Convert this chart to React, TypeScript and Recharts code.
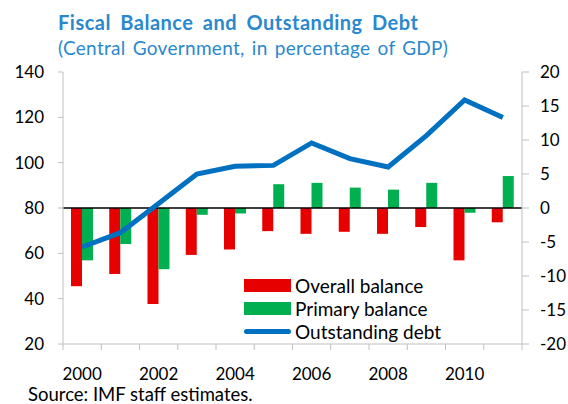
import { ComposedChart, Bar, Line, XAxis, YAxis, ReferenceLine } from 'recharts';

const years = ['2000', '2001', '2002', '2003', '2004', '2005', '2006', '2007', '2008', '2009', '2010', '2011'];
const overallBalance = [-11.5, -9.7, -14.1, -6.9, -6.1, -3.4, -3.8, -3.5, -3.8, -2.8, -7.7, -2.1];
const primaryBalance = [-7.7, -5.3, -9.0, -1.0, -0.8, 3.5, 3.7, 3.0, 2.7, 3.7, -0.7, 4.7];
const outstandingDebt = [62.8, 69.1, 82.0, 95.0, 98.4, 98.8, 108.7, 101.8, 98.1, 111.9, 127.7, 119.9];
const leftTicks = [20, 40, 60, 80, 100, 120, 140];
const rightTicks = [-20, -15, -10, -5, 0, 5, 10, 15, 20];

const data = years.map((year, i) => ({
  year,
  overall: overallBalance[i],
  primary: primaryBalance[i],
  debt: outstandingDebt[i],
}));

const RED = '#E60000';
const GREEN = '#00B050';
const BLUE = '#0070C0';
const TITLE = '#2A88CF';
const AXIS = '#BFBFBF';
const FONT = 'Lato, "Open Sans", sans-serif';

const PLOT_LEFT = 63;
const PLOT_RIGHT = 522;
const BAND = (PLOT_RIGHT - PLOT_LEFT) / years.length;

interface TickProps {
  x?: number;
  y?: number;
  index?: number;
  payload?: { value: string };
}

// category axis: tick marks sit on the band edges, labels every other year
function YearTick({ x = 0, y = 0, index = 0, payload }: TickProps) {
  const half = BAND / 2;
  return (
    <g>
      <line x1={x - half} x2={x - half} y1={y} y2={y + 6} stroke={AXIS} strokeWidth={1} />
      {index === years.length - 1 && (
        <line x1={x + half} x2={x + half} y1={y} y2={y + 6} stroke={AXIS} strokeWidth={1} />
      )}
      {index % 2 === 0 && (
        <text x={x} y={y + 36} textAnchor="middle" fontSize={17} fill="#000" fontFamily={FONT}>
          {payload?.value}
        </text>
      )}
    </g>
  );
}

function LegendBox() {
  const row = { display: 'flex', alignItems: 'center', height: 23 } as const;
  const label = { fontSize: 19, color: '#000', marginLeft: 4, whiteSpace: 'nowrap', lineHeight: '23px' } as const;
  return (
    <div style={{ position: 'absolute', left: 244, top: 274, fontFamily: FONT }}>
      <div style={row}>
        <span style={{ width: 47, height: 13, background: RED, display: 'inline-block' }} />
        <span style={label}>Overall balance</span>
      </div>
      <div style={row}>
        <span style={{ width: 47, height: 13, background: GREEN, display: 'inline-block' }} />
        <span style={label}>Primary balance</span>
      </div>
      <div style={row}>
        <span style={{ width: 47, height: 5, borderRadius: 3, background: BLUE, display: 'inline-block' }} />
        <span style={label}>Outstanding debt</span>
      </div>
    </div>
  );
}

export default function App() {
  return (
    <div style={{ position: 'absolute', left: 0, top: 0, width: 568, height: 404, background: '#fff', fontFamily: FONT }}>
      <div
        style={{
          position: 'absolute',
          left: 58,
          top: 10,
          fontSize: 20,
          fontWeight: 700,
          color: TITLE,
          whiteSpace: 'nowrap',
          letterSpacing: 0.5,
          wordSpacing: 4,
        }}
      >
        Fiscal Balance and Outstanding Debt
      </div>
      <div
        style={{
          position: 'absolute',
          left: 58,
          top: 36,
          fontSize: 19,
          color: TITLE,
          whiteSpace: 'nowrap',
          letterSpacing: 0.3,
          wordSpacing: 2,
        }}
      >
        (Central Government, in percentage of GDP)
      </div>
      <div style={{ position: 'absolute', left: 0, top: 0 }}>
        <ComposedChart
          width={568}
          height={404}
          data={data}
          margin={{ top: 72, right: 0, bottom: 30, left: 0 }}
          barGap={0}
          barSize={11}
        >
          <XAxis
            dataKey="year"
            interval={0}
            tickSize={0}
            tickMargin={0}
            tickLine={false}
            axisLine={{ stroke: AXIS }}
            tick={<YearTick />}
            height={30}
          />
          <YAxis
            yAxisId="left"
            orientation="left"
            domain={[20, 140]}
            ticks={leftTicks}
            width={63}
            tickSize={5}
            tickMargin={14}
            axisLine={{ stroke: AXIS }}
            tickLine={{ stroke: AXIS }}
            tick={{ fontSize: 17, fill: '#000', fontFamily: FONT }}
          />
          <YAxis
            yAxisId="right"
            orientation="right"
            domain={[-20, 20]}
            ticks={rightTicks}
            width={46}
            tickSize={7}
            tickMargin={11}
            axisLine={{ stroke: AXIS }}
            tickLine={{ stroke: AXIS }}
            tick={{ fontSize: 17, fill: '#000', fontFamily: FONT, textAnchor: 'start' }}
          />
          <Bar yAxisId="right" dataKey="overall" name="Overall balance" fill={RED} isAnimationActive={false} />
          <Bar yAxisId="right" dataKey="primary" name="Primary balance" fill={GREEN} isAnimationActive={false} />
          <ReferenceLine yAxisId="right" y={0} stroke="#000" strokeWidth={1.5} />
          <Line
            yAxisId="left"
            dataKey="debt"
            name="Outstanding debt"
            stroke={BLUE}
            strokeWidth={5}
            dot={false}
            type="linear"
            isAnimationActive={false}
          />
        </ComposedChart>
      </div>
      <LegendBox />
      <div
        style={{
          position: 'absolute',
          left: 28,
          top: 387,
          fontSize: 18.5,
          lineHeight: '14px',
          color: '#000',
          whiteSpace: 'nowrap',
        }}
      >
        Source: IMF staff estimates.
      </div>
    </div>
  );
}
